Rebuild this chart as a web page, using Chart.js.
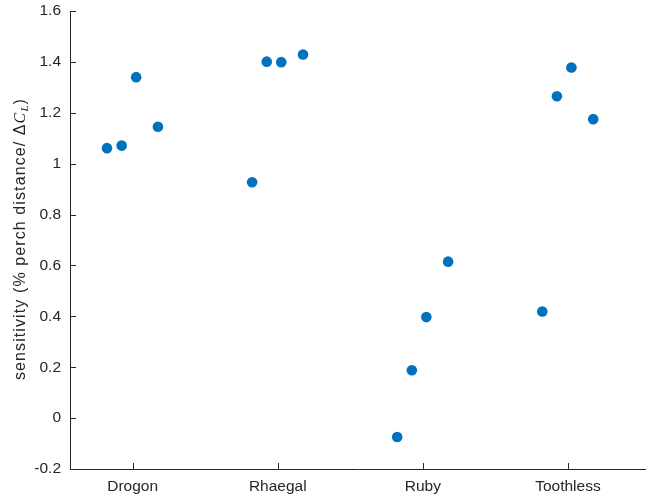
<!DOCTYPE html>
<html>
<head>
<meta charset="utf-8">
<script src="https://cdn.jsdelivr.net/npm/chart.js"></script>
<style>
  html, body { margin: 0; padding: 0; background: #fff; }
  canvas { display: block; }
</style>
</head>
<body>
<canvas id="myChart" width="646" height="502"></canvas>
<script>
    // 카테고리 / 값
    const categories = ['Drogon', 'Rhaegal', 'Ruby', 'Toothless'];
    const jitter = [-0.177, -0.076, 0.024, 0.174];
    const drogon = [1.061, 1.071, 1.340, 1.145];
    const rhaegal = [0.927, 1.401, 1.399, 1.429];
    const ruby = [-0.074, 0.188, 0.397, 0.615];
    const toothless = [0.419, 1.265, 1.378, 1.175];
    const yTicks = [-0.2, 0, 0.2, 0.4, 0.6, 0.8, 1, 1.2, 1.4, 1.6];

    const textColor = '#262626';
    const fontFamily = '"Liberation Sans", Arial, Helvetica, sans-serif';

    let points = [drogon, rhaegal, ruby, toothless].flatMap(function(vals, i) {
        return vals.map(function(v, j) {
            return { x: i + 1 + jitter[j], y: v };
        });
    });

    // 안쪽으로 들어가는 눈금 + y축 제목
    const axisExtras = {
        id: 'axisExtras',
        afterDraw(chart) {
            const ctx = chart.ctx;
            const area = chart.chartArea;
            const xs = chart.scales.x;
            const ys = chart.scales.y;
            ctx.save();
            ctx.strokeStyle = textColor;
            ctx.lineWidth = 1;
            ctx.beginPath();
            xs.ticks.forEach(function(t) {
                const px = Math.round(xs.getPixelForValue(t.value)) + 0.5;
                ctx.moveTo(px, area.bottom);
                ctx.lineTo(px, area.bottom - 6);
            });
            ys.ticks.forEach(function(t) {
                const py = Math.round(ys.getPixelForValue(t.value)) + 0.5;
                ctx.moveTo(area.left, py);
                ctx.lineTo(area.left + 6, py);
            });
            ctx.stroke();

            // y축 제목
            const parts = [
                { text: 'sensitivity (% perch distance/ ', font: '16px ' + fontFamily, dy: 0 },
                { text: '\u0394', font: '16px ' + fontFamily, dy: 0 },
                { text: 'C', font: 'italic 16px "Liberation Serif", "Times New Roman", serif', dy: 0 },
                { text: 'L', font: 'italic 11px "Liberation Serif", "Times New Roman", serif', dy: 3 },
                { text: ')', font: '16px ' + fontFamily, dy: 0 }
            ];
            ctx.letterSpacing = '1.1px';
            let total = 0;
            parts.forEach(function(p) {
                ctx.font = p.font;
                p.w = ctx.measureText(p.text).width;
                total += p.w;
            });
            ctx.translate(25, 239);
            ctx.rotate(-Math.PI / 2);
            ctx.fillStyle = textColor;
            ctx.textBaseline = 'alphabetic';
            ctx.textAlign = 'left';
            let x = -total / 2;
            parts.forEach(function(p) {
                ctx.font = p.font;
                ctx.fillText(p.text, x, p.dy);
                x += p.w;
            });
            ctx.restore();
        }
    };

    const ctx = document.getElementById('myChart');
    let chart = new Chart(ctx, {
        type: 'scatter',
        data: {
            datasets: [{
                label: 'sensitivity',
                data: points,
                backgroundColor: '#0072BD',
                borderWidth: 0,
                pointRadius: 5.3,
                pointHoverRadius: 5.3
            }]
        },
        options: {
            responsive: false,
            animation: false,
            devicePixelRatio: 1,
            layout: { autoPadding: false, padding: { top: 11, right: 0, bottom: 0, left: 0 } },
            plugins: {
                legend: { display: false },
                tooltip: { enabled: false }
            },
            scales: {
                x: {
                    type: 'linear',
                    min: 0.568,
                    max: 4.538,
                    grid: { display: false, drawTicks: false },
                    border: { display: true, color: textColor, width: 1 },
                    afterBuildTicks: function(s) {
                        s.ticks = categories.map(function(c, i) { return { value: i + 1 }; });
                    },
                    afterFit: function(s) {
                        s.height = 33;
                        s.paddingLeft = 0;
                        s.paddingRight = 0;
                    },
                    ticks: {
                        autoSkip: false,
                        maxRotation: 0,
                        padding: 8,
                        color: textColor,
                        font: { size: 15.5, family: fontFamily },
                        callback: function(v) { return categories[Math.round(v) - 1] || ''; }
                    }
                },
                y: {
                    min: -0.2,
                    max: 1.6,
                    grid: { display: false, drawTicks: false },
                    border: { display: true, color: textColor, width: 1 },
                    afterBuildTicks: function(s) {
                        s.ticks = yTicks.map(function(v) { return { value: v }; });
                    },
                    afterFit: function(s) {
                        s.width = 70;
                        s.paddingTop = 0;
                        s.paddingBottom = 0;
                    },
                    ticks: {
                        padding: 9,
                        color: textColor,
                        font: { size: 15.5, family: fontFamily },
                        callback: function(v) { return String(parseFloat(Number(v).toFixed(1))); }
                    }
                }
            }
        },
        plugins: [axisExtras]
    });
</script>
</body>
</html>
